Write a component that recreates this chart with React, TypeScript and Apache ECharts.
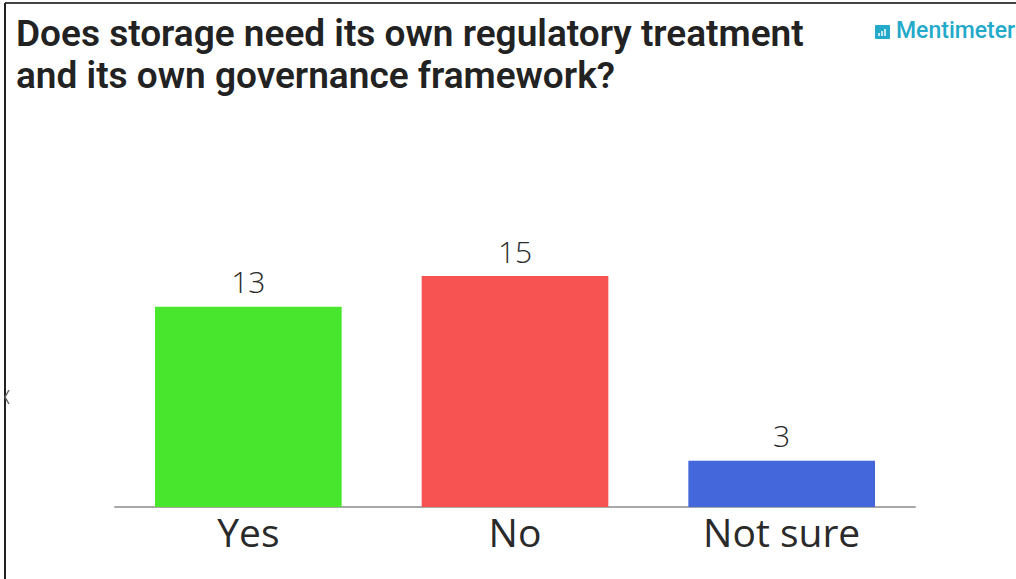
import React, { useEffect, useRef } from "react";
import * as echarts from "echarts";

const categories = ["Yes", "No", "Not sure"];
const votes = [13, 15, 3];
const barColors = ["#48e62d", "#f75352", "#4468dc"];
const titleLines = [
  "Does storage need its own regulatory treatment",
  "and its own governance framework?",
];
const brand = "Mentimeter";

export default function App() {
  const ref = useRef<HTMLDivElement>(null);
  useEffect(() => {
    document.body.style.margin = "0";
    const chart = echarts.init(ref.current!, null, { renderer: "svg" });
    chart.setOption({
      animation: false,
      backgroundColor: "#ffffff",
      grid: { left: 115, right: 101, top: 199, bottom: 72 },
      xAxis: {
        type: "category",
        data: categories,
        axisLine: { lineStyle: { color: "#a8a8a8", width: 2 } },
        axisTick: { show: false },
        axisLabel: {
          color: "#2a2a2a",
          fontFamily: "Open Sans",
          fontSize: 39,
          fontWeight: 400,
          margin: 5,
        },
      },
      yAxis: {
        type: "value",
        min: 0,
        max: 20,
        show: false,
        splitLine: { show: false },
      },
      series: [
        {
          type: "bar",
          barWidth: "70%",
          data: votes.map((v, i) => ({ value: v, itemStyle: { color: barColors[i] } })),
          label: {
            show: true,
            position: "top",
            distance: 10,
            color: "#2a2a2a",
            fontFamily: "Open Sans",
            fontSize: 30,
            fontWeight: 300,
          },
        },
      ],
      graphic: [
        { type: "line", shape: { x1: 5, y1: 3, x2: 1016, y2: 3 }, style: { stroke: "#444", lineWidth: 2 } },
        { type: "line", shape: { x1: 5, y1: 3, x2: 5, y2: 579 }, style: { stroke: "#222", lineWidth: 2 } },
        { type: "polyline", shape: { points: [[9, 390], [5, 397], [9, 404]] }, style: { stroke: "#666", lineWidth: 1.5, fill: "none" } },
        {
          type: "text",
          x: 16,
          y: 12,
          style: {
            text: titleLines.join("\n"),
            fill: "#222",
            font: "600 37px Roboto",
            lineHeight: 42,
          },
        },
        { type: "rect", shape: { x: 875, y: 25, width: 15, height: 14, r: 1 }, style: { fill: "#23a9c9" } },
        { type: "polyline", shape: { points: [[879, 36], [879, 33]] }, style: { stroke: "#fff", lineWidth: 1.5 } },
        { type: "polyline", shape: { points: [[882, 36], [882, 31]] }, style: { stroke: "#fff", lineWidth: 1.5 } },
        { type: "polyline", shape: { points: [[885, 36], [885, 29]] }, style: { stroke: "#fff", lineWidth: 1.5 } },
        {
          type: "text",
          x: 896,
          y: 19,
          style: { text: brand, fill: "#23a9c9", font: "500 23px Roboto" },
        },
      ],
    });
    return () => chart.dispose();
  }, []);
  return <div ref={ref} style={{ position: "absolute", left: 0, top: 0, width: 1016, height: 579 }} />;
}
